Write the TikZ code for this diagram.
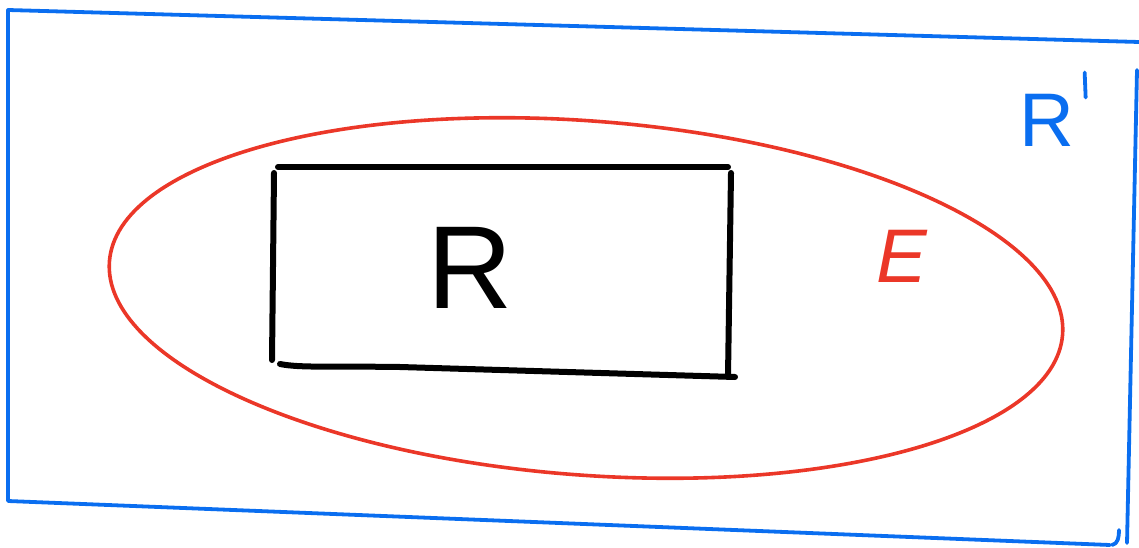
\documentclass[tikz,border=0pt]{standalone}
\usepackage{fontspec}
\setmainfont{Liberation Sans}
\definecolor{penblue}{RGB}{10,110,240}
\definecolor{penred}{RGB}{235,55,40}
\begin{document}
\begin{tikzpicture}[x=1pt,y=-1pt,line cap=round,line join=round,
  bluepen/.style={draw=penblue,line width=3.8pt},
  redpen/.style={draw=penred,line width=3.6pt},
  blackpen/.style={draw=black,line width=6pt},
  lbl/.style={inner sep=0pt,anchor=base}]
\useasboundingbox (0,0) rectangle (1139,548);
% outer region R'
\coordinate (tl) at (8,10);
\coordinate (tr) at (1139,42);
\coordinate (br) at (1127,543);
\coordinate (bl) at (8,501);
\draw[bluepen] (tr) -- (tl) -- (bl) -- (1110,545);
\draw[bluepen] (1137,70) -- (br);
\draw[bluepen] (1112,545) .. controls (1118,544) and (1119,537) .. (1119,530);
% ellipse E
\draw[redpen,rotate around={-4.4:(586,298)}] (586,298) ellipse[x radius=478,y radius=177];
% rectangle R
\coordinate (a1) at (278,167); \coordinate (a2) at (728,167);
\coordinate (b1) at (274,173); \coordinate (b2) at (272,360);
\coordinate (c1) at (731,173); \coordinate (c2) at (728,376);
\coordinate (d1) at (280,364); \coordinate (d2) at (735,377);
\draw[blackpen] (a1) -- (a2);
\draw[blackpen] (b1) -- (b2);
\draw[blackpen] (c1) -- (c2);
\draw[blackpen] (d1) .. controls (300,368) and (330,366) .. (400,367) -- (d2);
% labels
\node[lbl,font=\fontsize{118}{118}\selectfont] (R) at (470,308) {R};
\node[lbl,font=\fontsize{76}{76}\selectfont\itshape,text=penred] (E) at (902,282) {E};
\node[lbl,font=\fontsize{76}{76}\selectfont,text=penblue] (Rp) at (1047,147) {R};
\draw[bluepen] (Rp.north east) ++(10,-22) coordinate (p1) -- ++(1,25) coordinate (p2);
\end{tikzpicture}
\end{document}
